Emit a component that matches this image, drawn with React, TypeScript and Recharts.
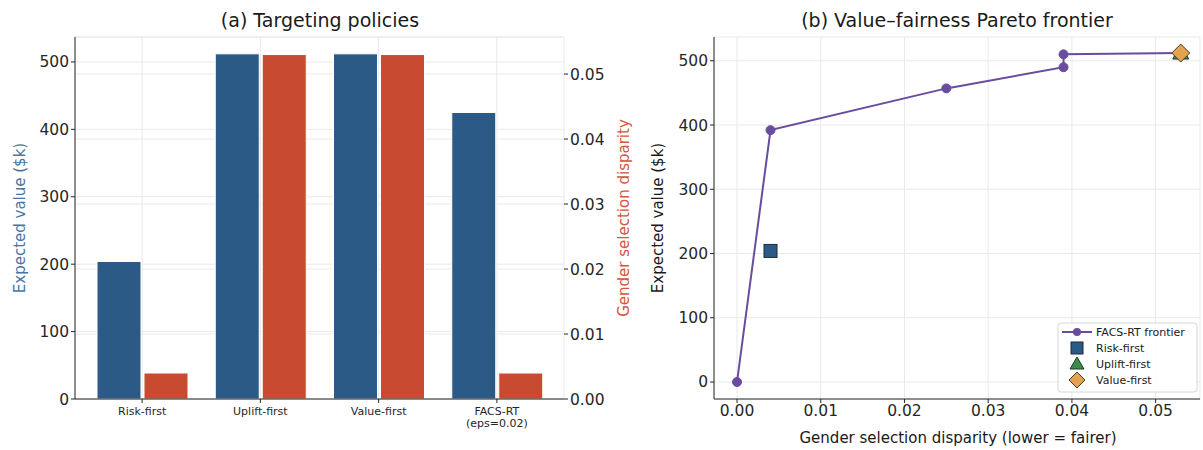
import { BarChart, Bar, XAxis, YAxis, CartesianGrid, ComposedChart, Line, Scatter } from 'recharts';

const policies = ['Risk-first', 'Uplift-first', 'Value-first', 'FACS-RT\n(eps=0.02)'];
const expectedValue = [204, 512, 512, 425];
const genderDisparity = [0.004, 0.053, 0.053, 0.004];
const valueTicks = [0, 100, 200, 300, 400, 500];
const disparityTicks = [0, 0.01, 0.02, 0.03, 0.04, 0.05];

const frontierDisparity = [0, 0.004, 0.025, 0.039, 0.039, 0.053];
const frontierValue = [0, 392, 457, 490, 510, 512];

const baselineNames = ['Risk-first', 'Uplift-first', 'Value-first'];
const baselineDisparity = [0.004, 0.053, 0.053];
const baselineValue = [204, 512, 512];

const BLUE = '#2c5a87';
const RED = '#c84b31';
const PURPLE = '#6a4c9f';
const GREEN = '#3a8c4c';
const ORANGE = '#e2a24f';
const GRID = '#e9e9e9';
const AXIS = '#262626';
const FONT = 'DejaVu Sans, sans-serif';

const barData = policies.map((p, i) => ({ policy: p, value: expectedValue[i], disparity: genderDisparity[i] }));
const frontier = frontierDisparity.map((x, i) => ({ x, y: frontierValue[i] }));
const baselines = baselineNames.map((n, i) => ({ name: n, x: baselineDisparity[i], y: baselineValue[i] }));

const tickStyle = { fontSize: 15.5, fill: AXIS, fontFamily: FONT };

function PolicyTick({ x, y, payload }: any) {
  const lines = String(payload.value).split('\n');
  return (
    <text x={x} y={y} textAnchor="middle" fontSize={11} fill={AXIS} fontFamily={FONT}>
      {lines.map((l, i) => (
        <tspan key={i} x={x} dy={i === 0 ? 10 : 12}>{l}</tspan>
      ))}
    </text>
  );
}

const square = (p: any) => <rect x={p.cx - 6.5} y={p.cy - 6.5} width={13} height={13} fill={BLUE} stroke="#1d2a38" strokeWidth={1} />;
const triangle = (p: any) => <path d={`M${p.cx},${p.cy - 8} L${p.cx + 8},${p.cy + 6} L${p.cx - 8},${p.cy + 6} Z`} fill={GREEN} stroke="#1f3a25" strokeWidth={1} />;
const diamond = (p: any) => <path d={`M${p.cx},${p.cy - 9} L${p.cx + 9},${p.cy} L${p.cx},${p.cy + 9} L${p.cx - 9},${p.cy} Z`} fill={ORANGE} stroke="#4a3a22" strokeWidth={1} />;

export default function App() {
  return (
    <div style={{ position: 'absolute', left: 0, top: 0, width: 1203, height: 450, background: '#fff', fontFamily: FONT }}>
      <div style={{ position: 'absolute', left: 0, top: 0 }}>
        <BarChart width={640} height={450} data={barData} margin={{ top: 37, right: 16, bottom: 21, left: 30 }} barSize={44} barGap={3}>
          <CartesianGrid yAxisId="v" stroke={GRID} ticks={valueTicks} />
          <CartesianGrid yAxisId="d" stroke={GRID} vertical={false} />
          <XAxis dataKey="policy" tick={<PolicyTick />} tickSize={4} interval={0} padding={{ left: 8, right: 8 }} height={30} stroke={AXIS} tickLine={{ stroke: AXIS }} />
          <YAxis yAxisId="v" domain={[0, 537]} ticks={valueTicks} width={45} tick={tickStyle} tickSize={4} stroke={AXIS} allowDataOverflow />
          <YAxis yAxisId="d" orientation="right" domain={[0, 0.0557]} ticks={disparityTicks} width={60} tick={tickStyle} tickSize={4} axisLine={false} tickLine={{ stroke: AXIS }} tickFormatter={(v: number) => v.toFixed(2)} allowDataOverflow />
          <Bar yAxisId="v" dataKey="value" fill={BLUE} stroke="#fff" strokeWidth={1} isAnimationActive={false} />
          <Bar yAxisId="d" dataKey="disparity" fill={RED} stroke="#fff" strokeWidth={1} isAnimationActive={false} />
        </BarChart>
      </div>
      <div style={{ position: 'absolute', left: 600, top: 0 }}>
        <ComposedChart width={603} height={450} margin={{ top: 37, right: 3, bottom: 26, left: 64 }}>
          <CartesianGrid stroke={GRID} />
          <XAxis type="number" dataKey="x" domain={[-0.00275, 0.0553]} ticks={disparityTicks} tickFormatter={(v: number) => v.toFixed(2)} tick={tickStyle} tickSize={4} height={25} stroke={AXIS} allowDataOverflow />
          <YAxis type="number" dataKey="y" domain={[-26.5, 537]} ticks={valueTicks} tick={tickStyle} tickSize={4} width={50} stroke={AXIS} allowDataOverflow />
          <Line data={frontier} dataKey="y" stroke={PURPLE} strokeWidth={2} dot={{ r: 4.5, fill: PURPLE, stroke: PURPLE, strokeWidth: 1 }} isAnimationActive={false} />
          <Scatter data={[baselines[0]]} dataKey="y" shape={square} isAnimationActive={false} />
          <Scatter data={[baselines[1]]} dataKey="y" shape={triangle} isAnimationActive={false} />
          <Scatter data={[baselines[2]]} dataKey="y" shape={diamond} isAnimationActive={false} />
        </ComposedChart>
      </div>
      <svg width={1203} height={450} style={{ position: 'absolute', left: 0, top: 0, pointerEvents: 'none' }} fontFamily={FONT}>
        <text x={320} y={27} textAnchor="middle" fontSize={19} fill="#1a1a1a">(a) Targeting policies</text>
        <text x={957} y={27} textAnchor="middle" fontSize={19} fill="#1a1a1a">(b) Value–fairness Pareto frontier</text>
        <text transform="translate(25,218) rotate(-90)" textAnchor="middle" fontSize={15} fill="#4a74a2">Expected value ($k)</text>
        <text transform="translate(629,218) rotate(-90)" textAnchor="middle" fontSize={15} fill="#d4563b">Gender selection disparity</text>
        <text transform="translate(663,218) rotate(-90)" textAnchor="middle" fontSize={15} fill="#1a1a1a">Expected value ($k)</text>
        <text x={958} y={443} textAnchor="middle" fontSize={15} fill="#1a1a1a">Gender selection disparity (lower = fairer)</text>
        <g>
          <rect x={1058} y={323} width={139} height={69} rx={3} fill="#fff" fillOpacity={0.85} stroke="#d6d6d6" />
          <line x1={1062} y1={332} x2={1092} y2={332} stroke={PURPLE} strokeWidth={2} />
          <circle cx={1077} cy={332} r={4} fill={PURPLE} />
          <text x={1096} y={336} fontSize={11} fill="#1a1a1a">FACS-RT frontier</text>
          <rect x={1071} y={342} width={12} height={12} fill={BLUE} stroke="#1d2a38" />
          <text x={1096} y={352} fontSize={11} fill="#1a1a1a">Risk-first</text>
          <path d="M1077,357 L1084,369 L1070,369 Z" fill={GREEN} stroke="#1f3a25" />
          <text x={1096} y={368} fontSize={11} fill="#1a1a1a">Uplift-first</text>
          <path d="M1077,372 L1085,380 L1077,388 L1069,380 Z" fill={ORANGE} stroke="#4a3a22" />
          <text x={1096} y={384} fontSize={11} fill="#1a1a1a">Value-first</text>
        </g>
      </svg>
    </div>
  );
}
